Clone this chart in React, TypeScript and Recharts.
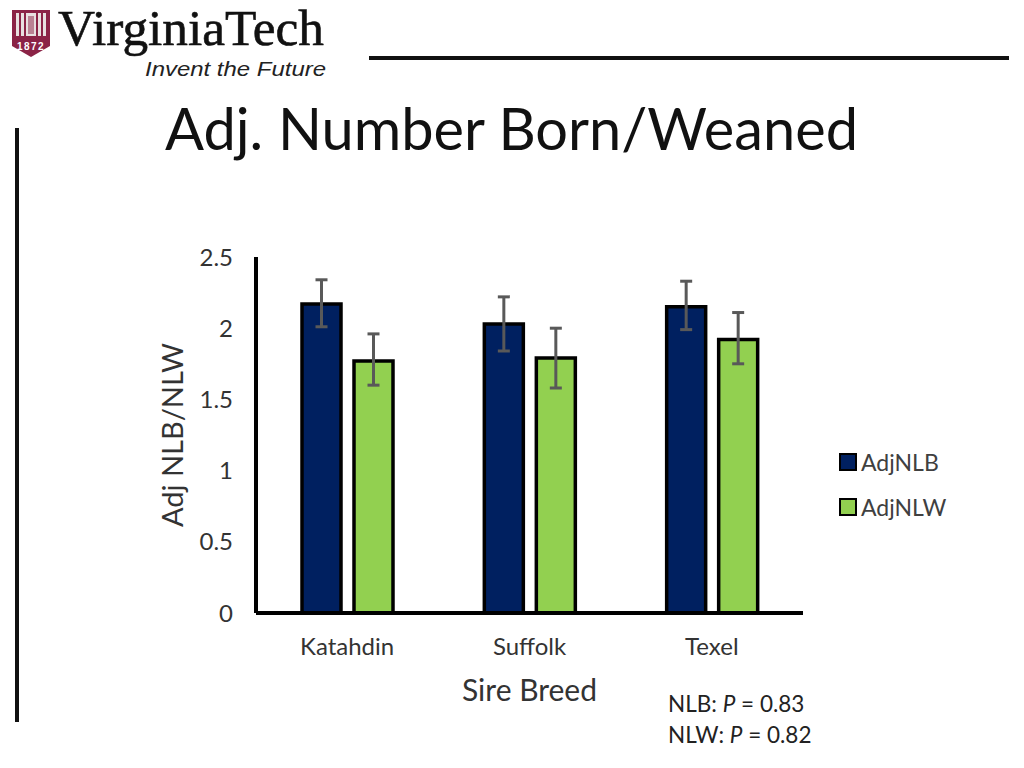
import { Bar, BarChart, ErrorBar, Legend, XAxis, YAxis } from 'recharts';

const breeds = ['Katahdin', 'Suffolk', 'Texel'];
const adjNlb = [2.17, 2.03, 2.15];
const adjNlbHigh = [2.34, 2.22, 2.33];
const adjNlbLow = [2.01, 1.84, 1.99];
const adjNlw = [1.77, 1.79, 1.92];
const adjNlwHigh = [1.96, 2.0, 2.11];
const adjNlwLow = [1.6, 1.58, 1.75];
const yTicks = [0, 0.5, 1, 1.5, 2, 2.5];

const data = breeds.map((breed, i) => ({
  breed,
  AdjNLB: adjNlb[i],
  AdjNLW: adjNlw[i],
  nlbErr: [adjNlb[i] - adjNlbLow[i], adjNlbHigh[i] - adjNlb[i]],
  nlwErr: [adjNlw[i] - adjNlwLow[i], adjNlwHigh[i] - adjNlw[i]],
}));

const FONT = 'Lato, "Open Sans", sans-serif';
const NAVY = '#002060';
const GREEN = '#92d050';
const TEXT = '#333333';

function LegendBox({ payload }: { payload?: any[] }) {
  return (
    <div style={{ fontFamily: FONT, fontSize: 23, color: '#404040' }}>
      {(payload ?? []).map((p) => (
        <div
          key={p.value}
          style={{ display: 'flex', alignItems: 'center', height: 45 }}
        >
          <span
            style={{
              width: 14,
              height: 14,
              background: p.color,
              border: '2.5px solid #000',
              marginRight: 4,
            }}
          />
          {p.value}
        </div>
      ))}
    </div>
  );
}

function SlideFrame() {
  return (
    <svg
      width={1024}
      height={768}
      style={{ position: 'absolute', left: 0, top: 0 }}
    >
      <path d="M12 10H50V46L31 57L12 46Z" fill="#8b2346" />
      <rect x={16} y={13} width={30} height={23} fill="#e8e0e0" />
      <path d="M20 13V36M25 13V36M37 13V36M42 13V36" stroke="#8b2346" strokeWidth={2} />
      <path d="M28 16H34V34H28Z" fill="#8b2346" fillOpacity={0.5} />
      <text x={31} y={50} textAnchor="middle" fontFamily="Liberation Sans" fontSize={10} fontWeight={700} fill="#fff" letterSpacing={1.5}>
        1872
      </text>
      <text x={58} y={45} fontFamily="Liberation Serif" fontSize={51} fill="#111" stroke="#111" strokeWidth={0.6} textLength={266} lengthAdjust="spacingAndGlyphs">
        VirginiaTech
      </text>
      <text x={145} y={76} fontFamily="Liberation Sans" fontStyle="italic" fontSize={20} fill="#222" textLength={181} lengthAdjust="spacingAndGlyphs">
        Invent the Future
      </text>
      <line x1={369} x2={1009} y1={58} y2={58} stroke="#111" strokeWidth={4} />
      <line x1={17} x2={17} y1={128} y2={722} stroke="#111" strokeWidth={4} />
      <text x={165} y={150} fontFamily={FONT} fontSize={58} fill="#111" textLength={693} lengthAdjust="spacingAndGlyphs">
        Adj. Number Born/Weaned
      </text>
      <text x={668} y={712} fontFamily={FONT} fontSize={22.5} fill="#222">
        NLB: <tspan fontStyle="italic">P</tspan> = 0.83
      </text>
      <text x={668} y={743} fontFamily={FONT} fontSize={22.5} fill="#222">
        NLW: <tspan fontStyle="italic">P</tspan> = 0.82
      </text>
    </svg>
  );
}

export default function App() {
  return (
    <div
      style={{
        position: 'absolute',
        left: 0,
        top: 0,
        width: 1024,
        height: 768,
        background: '#fff',
      }}
    >
      <SlideFrame />
      <BarChart
        width={1024}
        height={768}
        data={data}
        barSize={39}
        barGap={13}
        margin={{ top: 257, right: 221, bottom: 125, left: 196 }}
        style={{ position: 'absolute', left: 0, top: 0 }}
      >
        <XAxis
          dataKey="breed"
          height={30}
          tickLine={false}
          tickMargin={19}
          axisLine={{ stroke: '#000', strokeWidth: 4 }}
          tick={{ fontFamily: FONT, fontSize: 24, fill: TEXT }}
          label={{
            value: 'Sire Breed',
            position: 'insideBottom',
            offset: -58,
            style: { fontFamily: FONT, fontSize: 30, fill: TEXT },
          }}
        />
        <YAxis
          width={60}
          domain={[0, 2.5]}
          ticks={yTicks}
          tickLine={false}
          tickMargin={17}
          axisLine={{ stroke: '#000', strokeWidth: 4 }}
          tick={{ fontFamily: FONT, fontSize: 24, fill: TEXT }}
          label={{
            value: 'Adj NLB/NLW',
            angle: -90,
            position: 'insideLeft',
            offset: -23,
            style: { fontFamily: FONT, fontSize: 29, fill: TEXT, textAnchor: 'middle' },
          }}
        />
        <Legend
          content={<LegendBox />}
          layout="horizontal"
          verticalAlign="middle"
          wrapperStyle={{ left: 839, top: 439, width: 150 }}
        />
        <Bar dataKey="AdjNLB" fill={NAVY} stroke="#000" strokeWidth={3.5} isAnimationActive={false}>
          <ErrorBar dataKey="nlbErr" width={6} stroke="#595959" strokeWidth={3} isAnimationActive={false} />
        </Bar>
        <Bar dataKey="AdjNLW" fill={GREEN} stroke="#000" strokeWidth={3.5} isAnimationActive={false}>
          <ErrorBar dataKey="nlwErr" width={6} stroke="#595959" strokeWidth={3} isAnimationActive={false} />
        </Bar>
      </BarChart>
    </div>
  );
}
